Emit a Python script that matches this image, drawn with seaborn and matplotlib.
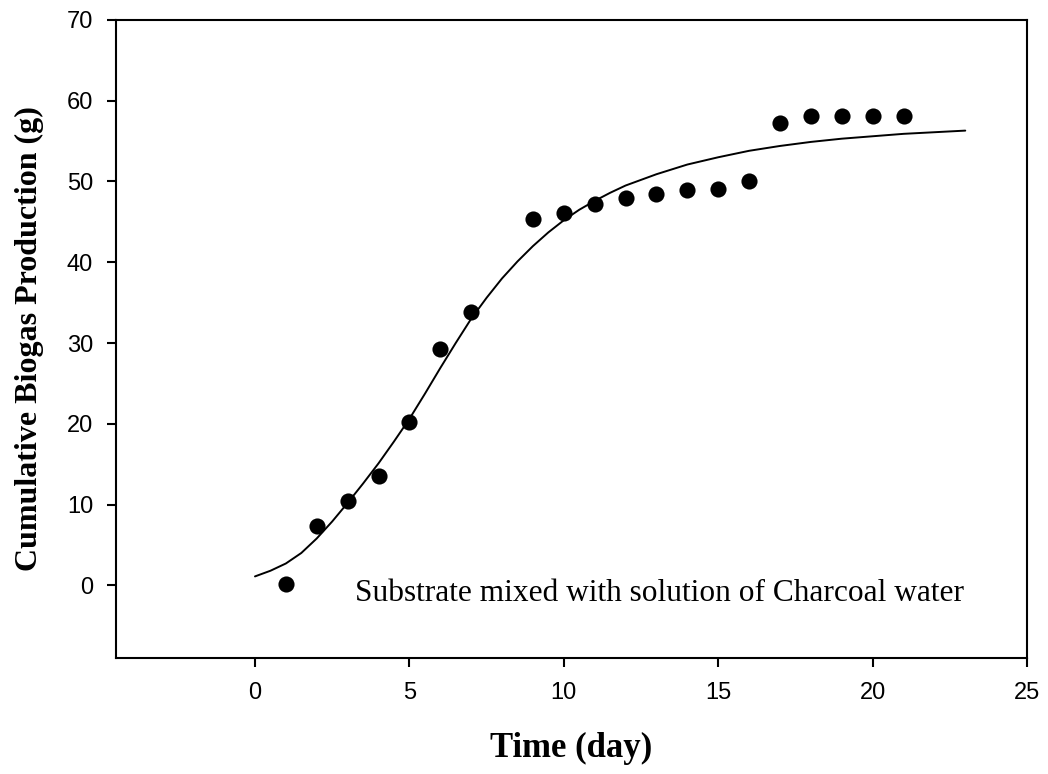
import numpy as np
import pandas as pd
import matplotlib
matplotlib.use('Agg')
import matplotlib.pyplot as plt
import seaborn as sns

# measured cumulative biogas (g) per day
day = [1, 2, 3, 4, 5, 6, 7, 9, 10, 11, 12, 13, 14, 15, 16, 17, 18, 19, 20, 21]
biogas = [0.2, 7.3, 10.4, 13.5, 20.2, 29.2, 33.8, 45.3, 46.1, 47.2, 48.0, 48.5,
          48.9, 49.1, 50.1, 57.3, 58.1, 58.1, 58.1, 58.1]

# fitted curve
fit_day = [0, 0.5, 1, 1.5, 2, 2.5, 3, 3.5, 4, 4.5, 5, 5.5, 6, 6.5, 7, 7.5, 8, 8.5,
           9, 9.5, 10, 10.5, 11, 11.5, 12, 13, 14, 15, 16, 17, 18, 19, 20, 21, 22, 23]
fit_biogas = [1.1, 1.8, 2.7, 4.0, 5.8, 7.9, 10.2, 12.6, 15.1, 17.8, 20.6, 23.7,
              26.9, 30.0, 33.0, 35.6, 38.0, 40.1, 42.0, 43.7, 45.2, 46.5, 47.6,
              48.6, 49.5, 50.9, 52.1, 53.0, 53.8, 54.4, 54.9, 55.3, 55.6, 55.9,
              56.1, 56.3]

x_ticks = [0, 5, 10, 15, 20, 25]
y_ticks = [0, 10, 20, 30, 40, 50, 60, 70]

sns.set_style('ticks')
plt.rcParams['font.family'] = ['Liberation Sans', 'DejaVu Sans']
plt.rcParams['text.color'] = 'black'
plt.rcParams['axes.labelcolor'] = 'black'
plt.rcParams['xtick.color'] = 'black'
plt.rcParams['ytick.color'] = 'black'

points_df = pd.DataFrame({'day': day, 'biogas': biogas})
fit_df = pd.DataFrame({'day': fit_day, 'biogas': fit_biogas})

fig = plt.figure(figsize=(10.48, 7.74), dpi=100)
ax = fig.add_axes([0.1107, 0.1499, 0.8693, 0.8243])

sns.lineplot(data=fit_df, x='day', y='biogas', color='black', linewidth=1.4, ax=ax)
sns.scatterplot(data=points_df, x='day', y='biogas', color='black', s=135,
                edgecolor='black', linewidth=0, ax=ax, zorder=3)

ax.set_xlim(-4.5, 25)
ax.set_ylim(-9, 70)
ax.set_xticks(x_ticks)
ax.set_yticks(y_ticks)

for side in ['top', 'right', 'left', 'bottom']:
    ax.spines[side].set_visible(True)
    ax.spines[side].set_linewidth(1.5)
    ax.spines[side].set_color('black')

ax.tick_params(axis='x', direction='out', length=6.5, width=1.5, pad=11,
               labelsize=17, top=False, colors='black')
ax.tick_params(axis='y', direction='out', length=6.5, width=1.5, pad=10,
               labelsize=17, right=False, colors='black')

ax.set_xlabel('Time (day)', family='Liberation Serif', fontweight='bold',
              fontsize=25, labelpad=20, color='black')
ax.set_ylabel('Cumulative Biogas Production (g)', family='Liberation Serif',
              fontweight='bold', fontsize=23, labelpad=16, color='black')

ax.text(3.24, -1.9, 'Substrate mixed with solution of Charcoal water',
        family='Liberation Serif', fontsize=22.6, va='baseline', ha='left',
        color='black')

plt.savefig('out.png', dpi=100)
